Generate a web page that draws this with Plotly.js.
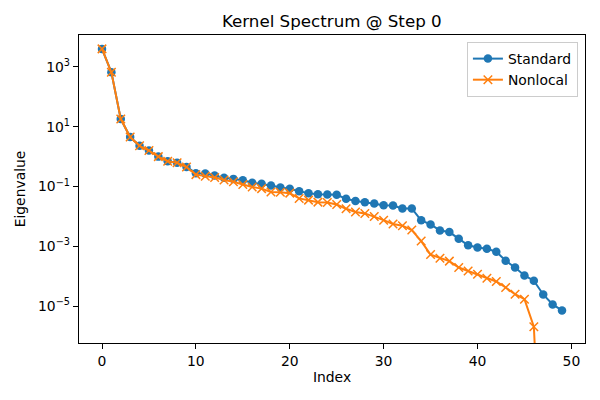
<!DOCTYPE html>
<html>
<head>
<meta charset="utf-8">
<script src="https://cdn.plot.ly/plotly-3.0.1.min.js"></script>
<style>html,body{margin:0;padding:0;background:#fff;}#chart{width:600px;height:400px;}</style>
</head>
<body>
<div id="chart"></div>
<script>
const indices = Array.from({length: 50}, (_, i) => i);
const standardVals = [
  4000, 660, 18, 4.5, 2.3, 1.6, 1.0, 0.70, 0.62, 0.45,
  0.28, 0.27, 0.233, 0.195, 0.18, 0.162, 0.133, 0.123, 0.108, 0.093,
  0.084, 0.070, 0.060, 0.055, 0.054, 0.053, 0.039, 0.033, 0.030, 0.027,
  0.0238, 0.0233, 0.0185, 0.0185, 0.0074, 0.0054, 0.0034, 0.0030, 0.0018, 0.00108,
  0.00091, 0.00083, 0.00066, 0.00033, 0.000195, 0.000106, 0.0000708, 0.0000245, 0.0000114, 0.0000072
];
const nonlocalVals = [
  4000, 660, 18, 4.5, 2.3, 1.6, 1.0, 0.70, 0.62, 0.45,
  0.25, 0.22, 0.20, 0.165, 0.145, 0.117, 0.096, 0.085, 0.066, 0.064,
  0.060, 0.040, 0.035, 0.030, 0.029, 0.025, 0.018, 0.014, 0.0126, 0.010,
  0.0075, 0.0056, 0.0049, 0.0035, 0.0015, 0.00053, 0.0004, 0.00032, 0.000195, 0.00015,
  0.000117, 0.0000858, 0.0000666, 0.000042, 0.000025, 0.0000171, 0.00000204, 1e-12, 1e-12, 1e-12
];
const yTickVals = [1e-5, 1e-3, 1e-1, 1e1, 1e3];
const yTickText = ['10<sup>\u22125</sup>', '10<sup>\u22123</sup>', '10<sup>\u22121</sup>', '10<sup>1</sup>', '10<sup>3</sup>'];
const xTickVals = [0, 10, 20, 30, 40, 50];

const font = 'DejaVu Sans, sans-serif';
const traces = [
  {x: indices, y: standardVals, name: 'Standard', type: 'scatter', mode: 'lines+markers',
   line: {color: '#1f77b4', width: 2}, marker: {symbol: 'circle', size: 8.5, color: '#1f77b4'}},
  {x: indices, y: nonlocalVals, name: 'Nonlocal', type: 'scatter', mode: 'lines+markers',
   line: {color: '#ff7f0e', width: 2}, marker: {symbol: 'x-thin-open', size: 8.5, line: {color: '#ff7f0e', width: 1.5}},
   cliponaxis: true}
];
const layout = {
  width: 600, height: 400,
  margin: {l: 79, r: 15, t: 35, b: 57},
  paper_bgcolor: '#fff', plot_bgcolor: '#fff',
  font: {family: font, size: 13.9, color: '#000'},
  title: {text: 'Kernel Spectrum @ Step 0', font: {family: font, size: 16.7, color: '#000'}, x: 0.553, xanchor: 'center', y: 0.947, yanchor: 'middle'},
  xaxis: {
    range: [-2.45, 51.45], tickvals: xTickVals, ticks: 'outside', ticklen: 5, tickwidth: 1, tickcolor: '#000',
    showline: true, mirror: true, linecolor: '#000', linewidth: 1.2, showgrid: false, zeroline: false,
    title: {text: 'Index', font: {family: font, size: 13.9}, standoff: 4}, automargin: false
  },
  yaxis: {
    type: 'log', range: [-6.233, 4.067], tickvals: yTickVals, ticktext: yTickText,
    ticks: 'outside', ticklen: 5, tickwidth: 1, tickcolor: '#000',
    showline: true, mirror: true, linecolor: '#000', linewidth: 1.2, showgrid: false, zeroline: false,
    title: {text: 'Eigenvalue', font: {family: font, size: 13.9}, standoff: 9}, automargin: false
  },
  legend: {x: 0.986, xanchor: 'right', y: 0.977, yanchor: 'top', bgcolor: 'rgba(255,255,255,0.8)',
    bordercolor: '#ccc', borderwidth: 1, font: {family: font, size: 13.9}, tracegroupgap: 0},
  showlegend: true
};
Plotly.newPlot('chart', traces, layout, {displayModeBar: false, staticPlot: true});
</script>
</body>
</html>
